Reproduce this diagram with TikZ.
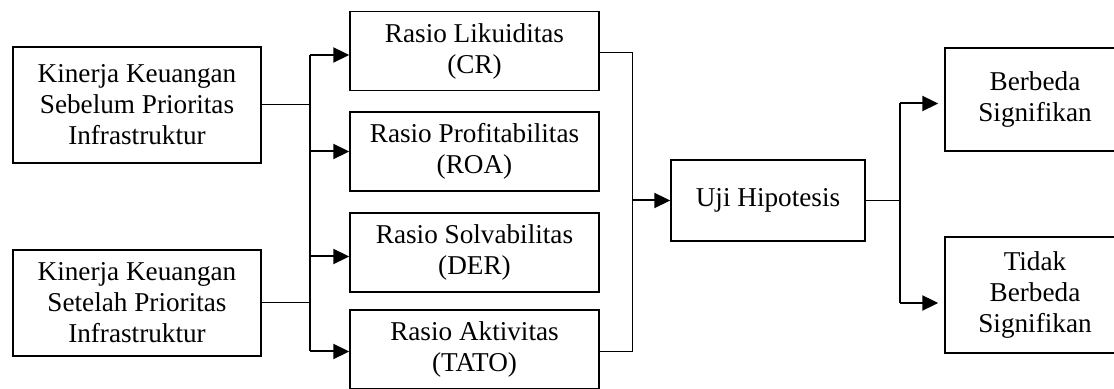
\documentclass[tikz,border=0pt]{standalone}
\usepackage{fontspec}
\setmainfont{Liberation Serif}
\usetikzlibrary{arrows.meta}
\usetikzlibrary{calc}

\begin{document}
\begin{tikzpicture}[x=0.5pt,y=-0.5pt,
	box/.style={draw,line width=0.7pt,align=center,inner sep=0pt,font=\fontsize{13.6}{15.5}\selectfont},
	tipis/.style={line width=0.5pt},
	tebal/.style={line width=1pt},
	arr/.style={-{Triangle[length=8pt,width=7.5pt]},line width=1pt}]
	\useasboundingbox (0,0) rectangle (1114,389);

	\node[box,minimum width=124pt,minimum height=58pt] (sebelum) at (137,105) {Kinerja Keuangan\\Sebelum Prioritas\\Infrastruktur};
	\node[box,minimum width=124pt,minimum height=53pt] (setelah) at (137,303) {Kinerja Keuangan\\Setelah Prioritas\\Infrastruktur};

	\node[box,minimum width=124.5pt,minimum height=39.5pt] (cr) at (474.5,51) {Rasio Likuiditas\\(CR)};
	\node[box,minimum width=124.5pt,minimum height=39.5pt] (roa) at (474.5,151.5) {Rasio Profitabilitas\\(ROA)};
	\node[box,minimum width=124.5pt,minimum height=39.5pt] (der) at (474.5,252.5) {Rasio Solvabilitas\\(DER)};
	\node[box,minimum width=124.5pt,minimum height=39.5pt] (tato) at (474.5,349.5) {Rasio Aktivitas\\(TATO)};

	\node[box,minimum width=97pt,minimum height=40.5pt] (uji) at (768,200.5) {Uji Hipotesis};

	% kotak hasil terpotong di tepi kanan
	\node[box,minimum width=90pt,minimum height=51.5pt] (berbeda) at (1035,99.5) {Berbeda\\Signifikan};
	\node[box,minimum width=90pt,minimum height=58pt] (tidak) at (1035,295) {Tidak\\Berbeda\\Signifikan};

	\coordinate (kiri) at (310,0);
	\coordinate (kanan) at (632,0);
	\coordinate (cabang) at (900,0);

	% kinerja -> rasio
	\draw[tipis] (sebelum.east) -- (sebelum.east -| kiri);
	\draw[tipis] (setelah.east) -- (setelah.east -| kiri);
	\draw[tebal] ([yshift=-2pt]cr.west -| kiri) -- ([yshift=-1pt]tato.west -| kiri);
	\draw[arr] ([yshift=-2pt]cr.west -| kiri) -- ([yshift=-2pt]cr.west);
	\draw[arr] (roa.west -| kiri) -- (roa.west);
	\draw[arr] ([yshift=-2pt]der.west -| kiri) -- ([yshift=-2pt]der.west);
	\draw[arr] ([yshift=-1pt]tato.west -| kiri) -- ([yshift=-1pt]tato.west);

	% rasio -> uji
	\draw[tipis] ([yshift=-1pt]cr.east) -- ([yshift=-1pt]cr.east -| kanan) -- ([yshift=-1pt]tato.east -| kanan) -- ([yshift=-1pt]tato.east);
	\draw[arr] (uji.west -| kanan) -- (uji.west);

	% uji -> hasil
	\draw[tipis] (uji.east) -- (uji.east -| cabang);
	\draw[tebal] ([yshift=-2pt]berbeda.west -| cabang) -- ([yshift=-4pt]tidak.west -| cabang);
	\draw[arr] ([yshift=-2pt]berbeda.west -| cabang) -- ([yshift=-2pt,xshift=-3pt]berbeda.west);
	\draw[arr] ([yshift=-4pt]tidak.west -| cabang) -- ([yshift=-4pt,xshift=-3pt]tidak.west);
\end{tikzpicture}
\end{document}
